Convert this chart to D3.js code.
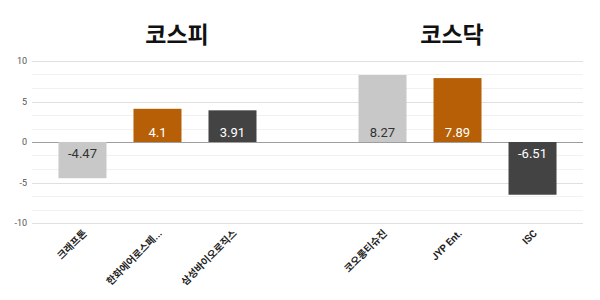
<!DOCTYPE html>
<html>
<head>
<meta charset="utf-8">
<script src="https://cdn.jsdelivr.net/npm/d3@7"></script>
<style>
  body { margin: 0; background: #fff; }
  svg { display: block; font-family: Roboto, "Noto Sans CJK KR", sans-serif; }
</style>
</head>
<body>
<svg width="600" height="300"></svg>
<script>
// two market groups, with an empty spacer slot between them
const groups = ['코스피', '코스닥'];
const kospiNames = ['크래프톤', '한화에어로스페...', '삼성바이오로직스'];
const kospiValues = [-4.47, 4.1, 3.91];
const kosdaqNames = ['코오롱티슈진', 'JYP Ent.', 'ISC'];
const kosdaqValues = [8.27, 7.89, -6.51];
const yTicks = [10, 5, 0, -5, -10];

const barColors = ['#c8c8c8', '#b65f07', '#434343'];
const textColors = ['#333', '#fff', '#fff'];

let data = [];
kospiNames.forEach((n, i) => data.push({ key: 'a' + i, name: n, value: kospiValues[i], rank: i, group: 0 }));
kosdaqNames.forEach((n, i) => data.push({ key: 'b' + i, name: n, value: kosdaqValues[i], rank: i, group: 1 }));

let svg = d3.select('svg');
let left = 32, right = 583;

let x = d3.scaleBand()
	.domain(['a0', 'a1', 'a2', 'gap', 'b0', 'b1', 'b2'])
	.range([left, right])
	.paddingInner(0.36)
	.paddingOuter(0.353);

let y = d3.scaleLinear().domain([-10, 10]).range([223, 61]);

// minor gridlines every 5/3
let minor = d3.range(-10, 10.01, 5 / 3);
svg.append('g').selectAll('line')
	.data(minor)
	.enter().append('line')
	.attr('x1', left).attr('x2', right)
	.attr('y1', (d) => Math.round(y(d)) + 0.5)
	.attr('y2', (d) => Math.round(y(d)) + 0.5)
	.attr('stroke', '#f1f1f1');

// major gridlines + labels
let yAxis = svg.append('g');
yAxis.selectAll('line')
	.data(yTicks)
	.enter().append('line')
	.attr('x1', left).attr('x2', right)
	.attr('y1', (d) => Math.round(y(d)) + 0.5)
	.attr('y2', (d) => Math.round(y(d)) + 0.5)
	.attr('stroke', (d) => (d === 0 ? '#9e9e9e' : '#e0e0e0'));
yAxis.selectAll('text')
	.data(yTicks)
	.enter().append('text')
	.attr('x', 27)
	.attr('y', (d) => y(d))
	.attr('dy', '0.35em')
	.attr('text-anchor', 'end')
	.attr('font-size', 9)
	.attr('fill', '#555')
	.text((d) => d);

// bars
svg.append('g').selectAll('rect')
	.data(data)
	.enter().append('rect')
	.attr('x', (d) => x(d.key))
	.attr('width', x.bandwidth())
	.attr('y', (d) => y(Math.max(0, d.value)))
	.attr('height', (d) => Math.abs(y(d.value) - y(0)))
	.attr('fill', (d) => barColors[d.rank]);

// value labels near the zero line
svg.append('g').selectAll('text')
	.data(data)
	.enter().append('text')
	.attr('x', (d) => x(d.key) + x.bandwidth() / 2)
	.attr('y', (d) => (d.value >= 0 ? y(0) - 10 : y(0) + 11))
	.attr('dy', '0.35em')
	.attr('text-anchor', 'middle')
	.attr('font-size', 13)
	.attr('fill', (d) => textColors[d.rank])
	.text((d) => d.value);

// category labels, rotated
svg.append('g').selectAll('text')
	.data(data)
	.enter().append('text')
	.attr('transform', (d) => 'translate(' + (x(d.key) + x.bandwidth() / 2 + 5) + ',234) rotate(-45)')
	.attr('text-anchor', 'end')
	.attr('font-size', 10)
	.attr('font-weight', 'bold')
	.attr('fill', '#222')
	.text((d) => d.name);

// group titles
let titleX = [177, 452];
svg.append('g').selectAll('text')
	.data(groups)
	.enter().append('text')
	.attr('x', (d, i) => titleX[i])
	.attr('y', 43)
	.attr('text-anchor', 'middle')
	.attr('font-size', 23)
	.attr('font-weight', 'bold')
	.attr('font-family', '"Noto Sans CJK KR", sans-serif')
	.attr('fill', '#111')
	.text((d) => d);
</script>
</body>
</html>
